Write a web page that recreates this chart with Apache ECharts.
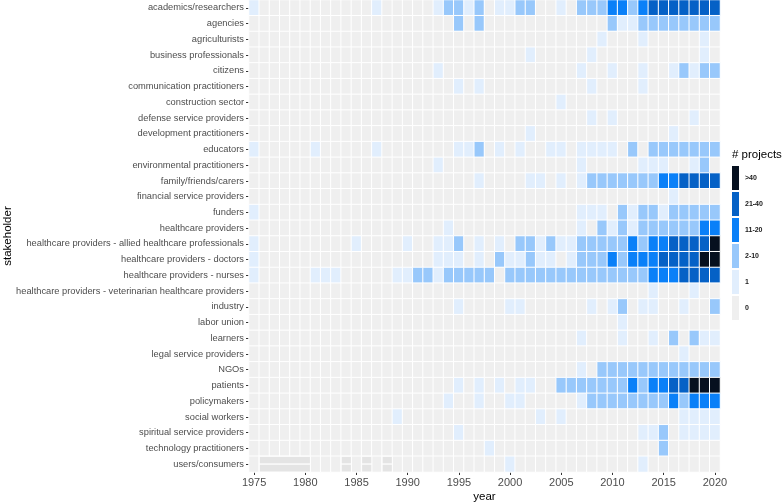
<!DOCTYPE html>
<html><head><meta charset="utf-8">
<script src="https://cdn.jsdelivr.net/npm/echarts@6/dist/echarts.min.js"></script>
<style>html,body{margin:0;padding:0;background:#fff}#c{width:783px;height:504px}</style>
</head><body><div id="c"></div>
<script>
const FIRST_YEAR = 1975, LAST_YEAR = 2020;
const years = [];
for (let y = FIRST_YEAR; y <= LAST_YEAR; y++) years.push(String(y));
const yearTickLabels = ['1975','1980','1985','1990','1995','2000','2005','2010','2015','2020'];

const stakeholders = [
 'academics/researchers','agencies','agriculturists','business professionals','citizens',
 'communication practitioners','construction sector','defense service providers','development practitioners','educators',
 'environmental practitioners','family/friends/carers','financial service providers','funders','healthcare providers',
 'healthcare providers - allied healthcare professionals','healthcare providers - doctors','healthcare providers - nurses',
 'healthcare providers - veterinarian healthcare providers','industry','labor union','learners','legal service providers',
 'NGOs','patients','policymakers','social workers','spiritual service providers','technology practitioners','users/consumers'
];

// estimated # projects per [year, count] (count chosen inside the visible bin)
const academics = [[1975,1],[1987,1],[1993,1],[1994,5],[1995,5],[1996,1],[1997,5],[1999,1],[2000,1],[2001,5],[2002,5],[2005,1],[2007,5],[2008,5],[2009,5],[2010,15],[2011,15],[2012,5],[2013,15],[2014,30],[2015,30],[2016,30],[2017,30],[2018,30],[2019,30],[2020,30]];
const agencies = [[1995,5],[1997,5],[2010,5],[2011,1],[2012,1],[2013,5],[2014,5],[2015,5],[2016,5],[2017,5],[2018,5],[2019,5],[2020,5]];
const agriculturists = [[2009,1],[2013,1],[2019,1]];
const business = [[2002,1],[2008,1],[2019,1]];
const citizens = [[1993,1],[2007,1],[2010,1],[2013,1],[2016,1],[2017,5],[2018,1],[2019,5],[2020,5]];
const communication = [[1995,1],[1997,1],[2008,1],[2013,1]];
const construction = [[2005,1]];
const defense = [[2008,1],[2010,1],[2018,1]];
const development = [[2002,1],[2016,1]];
const educators = [[1975,1],[1981,1],[1987,1],[1995,1],[1996,1],[1997,5],[1999,1],[2001,1],[2004,1],[2005,1],[2007,1],[2008,1],[2009,1],[2010,1],[2012,5],[2014,5],[2015,5],[2016,5],[2017,5],[2018,5],[2019,5],[2020,5]];
const environmental = [[1993,1],[2007,1],[2013,1],[2014,1],[2015,1],[2018,1],[2019,5]];
const family = [[1997,1],[2002,1],[2003,1],[2005,1],[2007,1],[2008,5],[2009,5],[2010,5],[2011,5],[2012,5],[2013,5],[2014,5],[2015,15],[2016,15],[2017,30],[2018,30],[2019,30],[2020,30]];
const financial = [[2016,1]];
const funders = [[1975,1],[2007,1],[2008,1],[2009,1],[2011,5],[2012,1],[2013,5],[2014,5],[2015,1],[2016,5],[2017,5],[2018,5],[2019,5],[2020,5]];
const healthcare = [[1994,1],[2007,1],[2009,5],[2010,1],[2011,5],[2012,1],[2013,5],[2014,5],[2015,5],[2016,5],[2017,5],[2018,5],[2019,15],[2020,15]];
const allied = [[1975,1],[1985,1],[1990,1],[1993,1],[1994,1],[1995,5],[1997,1],[1999,1],[2001,5],[2002,5],[2003,1],[2004,5],[2005,1],[2006,1],[2007,5],[2008,5],[2009,5],[2010,5],[2011,5],[2012,15],[2013,5],[2014,15],[2015,15],[2016,30],[2017,30],[2018,30],[2019,30],[2020,50]];
const doctors = [[1975,1],[1993,1],[1994,1],[1995,1],[1997,1],[1999,5],[2000,1],[2001,1],[2002,5],[2003,1],[2004,1],[2006,1],[2007,5],[2008,5],[2009,5],[2010,15],[2011,5],[2012,15],[2013,15],[2014,15],[2015,30],[2016,30],[2017,30],[2018,30],[2019,50],[2020,50]];
const nurses = [[1975,1],[1981,1],[1982,1],[1983,1],[1989,1],[1990,1],[1991,5],[1992,5],[1993,1],[1994,5],[1995,5],[1996,5],[1997,5],[1998,5],[2000,5],[2001,5],[2002,5],[2003,5],[2004,5],[2005,5],[2006,5],[2007,5],[2008,5],[2009,5],[2010,5],[2011,5],[2012,5],[2013,5],[2014,15],[2015,15],[2016,15],[2017,30],[2018,30],[2019,30],[2020,30]];
const veterinarian = [[2014,1],[2018,1]];
const industry = [[1995,1],[2000,1],[2001,1],[2008,1],[2010,1],[2011,5],[2013,1],[2014,1],[2017,1],[2020,5]];
const labor = [[2011,1]];
const learners = [[2007,1],[2011,1],[2014,1],[2016,5],[2018,5],[2019,1],[2020,1]];
const legal = [[2017,1]];
const ngos = [[2007,1],[2009,5],[2010,5],[2011,5],[2012,5],[2013,5],[2014,5],[2015,5],[2016,5],[2017,5],[2018,5],[2019,5],[2020,5]];
const patients = [[1995,1],[1997,1],[1999,1],[2001,1],[2002,1],[2005,5],[2006,5],[2007,5],[2008,5],[2009,5],[2010,5],[2011,5],[2012,15],[2013,5],[2014,15],[2015,15],[2016,30],[2017,30],[2018,50],[2019,50],[2020,50]];
const policymakers = [[1994,1],[1997,1],[2000,1],[2001,1],[2007,1],[2008,5],[2009,5],[2010,5],[2011,5],[2012,5],[2013,5],[2014,5],[2015,5],[2016,15],[2017,5],[2018,15],[2019,15],[2020,15]];
const social = [[1989,1],[2003,1],[2005,1],[2017,1],[2018,1],[2019,1],[2020,1]];
const spiritual = [[1995,1],[2013,1],[2014,1],[2015,5],[2017,1],[2018,1],[2019,1],[2020,1]];
const technology = [[1998,1],[2015,5]];
const users = [[2000,1],[2013,1]];
// duplicated (overlapping) zero tiles visible in the users/consumers row: [fromYear, toYear]
const usersOverlap = [[1976,1980],[1984,1984],[1986,1986],[1988,1988]];

const rows = [academics,agencies,agriculturists,business,citizens,communication,construction,defense,development,educators,
  environmental,family,financial,funders,healthcare,allied,doctors,nurses,veterinarian,industry,labor,learners,legal,
  ngos,patients,policymakers,social,spiritual,technology,users];

const heat = [];
rows.forEach((row, r) => {
  const m = {};
  row.forEach(p => { m[p[0]] = p[1]; });
  years.forEach((y, i) => heat.push([i, r, m[+y] || 0]));
});
const overlapData = usersOverlap.map(s => [years.indexOf(String(s[0])), years.indexOf(String(s[1])), stakeholders.length - 1]);

const FONT = "'Liberation Sans', Arial, Helvetica, sans-serif";
const isTick = (i, v) => yearTickLabels.indexOf(String(v)) >= 0;

const chart = echarts.init(document.getElementById('c'), null, {renderer: 'canvas'});
chart.setOption({
  animation: false,
  backgroundColor: '#ffffff',
  textStyle: {fontFamily: FONT},
  title: {text: '# projects', left: 732, top: 149, padding: 0, textStyle: {fontSize: 11.5, fontWeight: 'normal', color: '#000', fontFamily: FONT}},
  grid: {left: 249, right: 63, top: 0, bottom: 32, outerBoundsMode: 'none', containLabel: false},
  xAxis: {
    type: 'category', data: years, name: 'year', nameLocation: 'middle', nameGap: 19, nameMoveOverlap: false,
    nameTextStyle: {fontSize: 11.5, color: '#000', fontFamily: FONT},
    axisLine: {show: false},
    axisTick: {show: true, alignWithLabel: true, interval: isTick, length: 3, lineStyle: {color: '#333', width: 1}},
    axisLabel: {interval: isTick, fontSize: 11, color: '#4d4d4d', margin: 5, fontFamily: FONT},
    splitLine: {show: false}
  },
  yAxis: {
    type: 'category', data: stakeholders, inverse: true, name: 'stakeholder', nameLocation: 'middle', nameGap: 235, nameMoveOverlap: false,
    nameTextStyle: {fontSize: 11.5, color: '#000', fontFamily: FONT},
    axisLine: {show: false},
    axisTick: {show: true, alignWithLabel: true, length: 3, lineStyle: {color: '#333', width: 1}},
    axisLabel: {fontSize: 9.3, color: '#4d4d4d', margin: 5, fontFamily: FONT},
    splitLine: {show: false}
  },
  visualMap: {
    type: 'piecewise', orient: 'vertical', left: 732, top: 166, dimension: 2, seriesIndex: 0, align: 'left',
    itemWidth: 7, itemHeight: 24, itemGap: 2, itemSymbol: 'rect', textGap: 6, selectedMode: false, padding: 0,
    textStyle: {fontSize: 7, fontWeight: 'bold', color: '#1a1a1a', fontFamily: FONT},
    pieces: [
      {value: 0, label: '0', color: '#efefef'},
      {value: 1, label: '1', color: '#e1eefd'},
      {min: 2, max: 10, label: '2-10', color: '#98c8fb'},
      {min: 11, max: 20, label: '11-20', color: '#0a80f8'},
      {min: 21, max: 40, label: '21-40', color: '#0561c6'},
      {min: 41, label: '>40', color: '#06101f'}
    ]
  },
  series: [{
    type: 'heatmap', data: heat,
    itemStyle: {borderColor: '#ffffff', borderWidth: 1},
    emphasis: {disabled: true}
  }, {
    type: 'custom', data: overlapData, z: 5, silent: true,
    renderItem: function (params, api) {
      const s = api.value(0), e = api.value(1), r = api.value(2);
      const c = api.coord([s, r]);
      const sz = api.size([1, 1]);
      const x = c[0] - sz[0] / 2, w = (e - s + 1) * sz[0];
      const y = c[1] - sz[1] / 2, h = sz[1];
      const st = {fill: '#e4e4e4', stroke: '#ffffff', lineWidth: 1};
      return {type: 'group', children: [
        {type: 'rect', shape: {x: x, y: y, width: w, height: h / 2}, style: st},
        {type: 'rect', shape: {x: x, y: y + h / 2, width: w, height: h / 2}, style: st}
      ]};
    }
  }]
});
</script></body></html>
